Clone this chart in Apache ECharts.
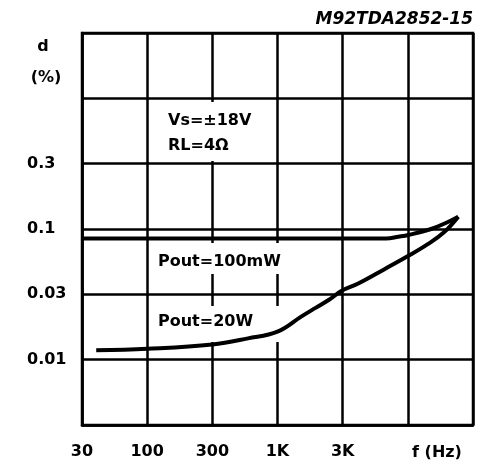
<!DOCTYPE html>
<html>
<head>
<meta charset="utf-8">
<script src="https://cdn.jsdelivr.net/npm/echarts@6/dist/echarts.min.js"></script>
<style>
html,body{margin:0;padding:0;background:#fff;}
#chart{width:483px;height:460px;}
</style>
</head>
<body>
<div id="chart"></div>
<script>
// Axis tick values (half-decade grid) and labels
const freqTicks = [30, 100, 300, 1000, 3000, 10000, 30000];
const xTickLabels = ['30', '100', '300', '1K', '3K', '', ''];
const dTicks = [0.003, 0.01, 0.03, 0.1, 0.3, 1, 3];
const yTickLabels = ['', '0.01', '0.03', '0.1', '0.3', '', ''];

// Pout = 100 mW curve: frequency (Hz) and distortion (%)
const pout100mW_f = [30, 100, 300, 1000, 3000, 6700, 8400, 10100, 14800, 19500, 23400];
const pout100mW_d = [0.084, 0.084, 0.084, 0.084, 0.084, 0.084, 0.0867, 0.0895, 0.100, 0.112, 0.123];

// Pout = 20 W curve
const pout20W_f = [39, 100, 300, 580, 1000, 1500, 1900, 2400, 2930, 4000, 6500, 10100, 14000, 18400, 23400];
const pout20W_d = [0.0117, 0.0120, 0.0129, 0.0143, 0.0160, 0.0207, 0.0239, 0.0275, 0.0319, 0.0366, 0.0477, 0.0610, 0.0757, 0.0941, 0.123];

// map a value onto the chart's grid units (piecewise log between ticks)
function toUnit(v, ticks) {
  let i = 0;
  while (i < ticks.length - 2 && v > ticks[i + 1]) i++;
  return i + Math.log(v / ticks[i]) / Math.log(ticks[i + 1] / ticks[i]);
}
function build(fs, ds) {
  return fs.map((f, i) => [toUnit(f, freqTicks), toUnit(ds[i], dTicks)]);
}

const FONT = '"DejaVu Sans", sans-serif';
const chart = echarts.init(document.getElementById('chart'), null, {renderer: 'canvas'});
const gridLine = {color: '#000', width: 2.5};

chart.setOption({
  backgroundColor: '#fff',
  animation: false,
  grid: {left: 82, right: 10, top: 33, bottom: 33, show: true, borderColor: '#000', borderWidth: 2.5},
  xAxis: {
    type: 'value', min: 0, max: 6, interval: 1,
    axisLine: {show: true, lineStyle: gridLine},
    axisTick: {show: false},
    splitLine: {show: true, lineStyle: gridLine},
    axisLabel: {
      showMinLabel: true, showMaxLabel: true,
      formatter: v => xTickLabels[Math.round(v)] || '',
      color: '#000', fontSize: 16, fontWeight: 'bold', fontFamily: FONT, margin: 19
    }
  },
  yAxis: {
    type: 'value', min: 0, max: 6, interval: 1,
    axisLine: {show: true, lineStyle: gridLine},
    axisTick: {show: false},
    splitLine: {show: true, lineStyle: gridLine},
    axisLabel: {
      formatter: v => yTickLabels[Math.round(v)] || '',
      color: '#000', fontSize: 16, fontWeight: 'bold', fontFamily: FONT,
      margin: 55, align: 'left'
    }
  },
  series: [
    {
      name: 'Pout=100mW', type: 'line', data: build(pout100mW_f, pout100mW_d),
      showSymbol: false, smooth: 0.4, z: 3,
      lineStyle: {color: '#000', width: 4}
    },
    {
      name: 'Pout=20W', type: 'line', data: build(pout20W_f, pout20W_d),
      showSymbol: false, smooth: 0.4, z: 3,
      lineStyle: {color: '#000', width: 4}
    }
  ],
  graphic: [
    {type: 'rect', z: 1, shape: {x: 156, y: 102, width: 118, height: 59}, style: {fill: '#fff'}},
    {type: 'rect', z: 1, shape: {x: 155, y: 243, width: 145, height: 31}, style: {fill: '#fff'}},
    {type: 'rect', z: 1, shape: {x: 155, y: 306, width: 128, height: 36}, style: {fill: '#fff'}},
    {type: 'text', z: 10, style: {text: 'M92TDA2852-15', x: 473, y: 20, font: 'italic bold 17px ' + FONT, fill: '#000', textAlign: 'right', textVerticalAlign: 'middle'}},
    {type: 'text', z: 10, style: {text: 'd', x: 43, y: 47, font: 'bold 16px ' + FONT, fill: '#000', textAlign: 'center', textVerticalAlign: 'middle'}},
    {type: 'text', z: 10, style: {text: '(%)', x: 46, y: 78, font: 'bold 16px ' + FONT, fill: '#000', textAlign: 'center', textVerticalAlign: 'middle'}},
    {type: 'text', z: 10, style: {text: 'Vs=±18V', x: 168, y: 121, font: 'bold 16px ' + FONT, fill: '#000', textAlign: 'left', textVerticalAlign: 'middle'}},
    {type: 'text', z: 10, style: {text: 'RL=4Ω', x: 168, y: 146, font: 'bold 16px ' + FONT, fill: '#000', textAlign: 'left', textVerticalAlign: 'middle'}},
    {type: 'text', z: 10, style: {text: 'Pout=100mW', x: 158, y: 262, font: 'bold 16px ' + FONT, fill: '#000', textAlign: 'left', textVerticalAlign: 'middle'}},
    {type: 'text', z: 10, style: {text: 'Pout=20W', x: 158, y: 322, font: 'bold 16px ' + FONT, fill: '#000', textAlign: 'left', textVerticalAlign: 'middle'}},
    {type: 'text', z: 10, style: {text: 'f (Hz)', x: 437, y: 453, font: 'bold 16px ' + FONT, fill: '#000', textAlign: 'center', textVerticalAlign: 'middle'}}
  ]
});
</script>
</body>
</html>
